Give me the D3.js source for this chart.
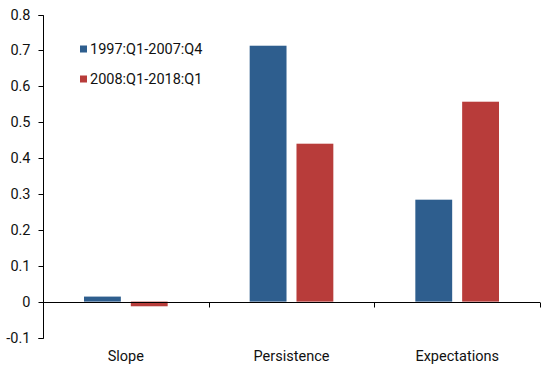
<!DOCTYPE html>
<html><head><meta charset="utf-8">
<script src="https://cdn.jsdelivr.net/npm/d3@7"></script>
<style>body{margin:0;background:#fff}svg{font-family:Roboto,"Liberation Sans",Arial,sans-serif}</style>
</head><body><svg id="c" width="550" height="365"></svg>
<script>
const categories = ["Slope", "Persistence", "Expectations"];
const seriesNames = ["1997:Q1-2007:Q4", "2008:Q1-2018:Q1"];
const series1 = [0.014, 0.713, 0.284];
const series2 = [-0.013, 0.44, 0.557];
const yTicks = [-0.1, 0, 0.1, 0.2, 0.3, 0.4, 0.5, 0.6, 0.7, 0.8];
const colors = ["#2E5E8E", "#B83C3A"];

const svg = d3.select("#c");
const fs = 14.5;
const mLeft = 43, mRight = 540, mTop = 14.5, mBottom = 337.5;
const x = d3.scaleBand().domain(categories).range([mLeft, mRight]);
const y = d3.scaleLinear().domain([-0.1, 0.8]).range([mBottom, mTop]);
const x1 = d3.scaleBand().domain([0, 1]).range([41, x.bandwidth() - 41]).paddingInner(0.213);

const data = categories.map((c, i) => ({c, v: [series1[i], series2[i]]}));
const g = svg.append("g");
data.forEach(d => {
  d.v.forEach((v, j) => {
    g.append("rect")
      .attr("x", x(d.c) + x1(j))
      .attr("width", x1.bandwidth())
      .attr("y", y(Math.max(0, v)))
      .attr("height", Math.abs(y(v) - y(0)))
      .attr("fill", colors[j]);
  });
});

// y axis
const ya = svg.append("g").attr("transform", `translate(${mLeft + 0.5},0)`)
  .call(d3.axisLeft(y).tickValues(yTicks).tickSize(5).tickPadding(8)
    .tickFormat(d => d === 0 ? "0" : String(+d.toFixed(1))));
ya.select(".domain").attr("stroke", "#000").attr("d", `M-5,${Math.round(y(0.8))+0.5}H0V${Math.round(y(-0.1))+0.5}H-5`);
ya.selectAll(".tick line").attr("stroke", "#000");
ya.selectAll(".tick text").attr("font-size", fs).attr("fill", "#111").attr("font-family", "Roboto");
ya.selectAll(".tick").attr("transform", d => `translate(0,${Math.round(y(d)) + 0.5})`);

// x axis at zero
const xa = svg.append("g").attr("transform", `translate(0,${Math.round(y(0)) + 0.5})`)
  .call(d3.axisBottom(x).tickSize(0).tickPadding(48));
xa.select(".domain").attr("stroke", "#000").attr("d", `M${mLeft},0H${mRight}`);
xa.selectAll(".tick text").attr("font-size", fs).attr("fill", "#111").attr("font-family", "Roboto");
const bounds = [x(categories[1]), x(categories[2]), mRight];
bounds.forEach(b => {
  xa.append("line").attr("x1", Math.round(b) + 0.5).attr("x2", Math.round(b) + 0.5)
    .attr("y1", 0).attr("y2", 5).attr("stroke", "#000");
});

// legend
seriesNames.forEach((n, i) => {
  const lg = svg.append("g").attr("transform", `translate(80,${49 + i * 30})`);
  lg.append("rect").attr("x", 0).attr("y", -3.5).attr("width", 7).attr("height", 7).attr("fill", colors[i]);
  lg.append("text").attr("x", 10).attr("y", 5).attr("font-size", fs).attr("fill", "#111").text(n);
});
</script></body></html>
